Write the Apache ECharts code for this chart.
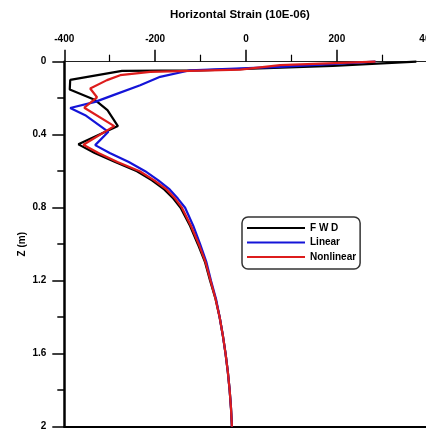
<!DOCTYPE html>
<html>
<head>
<meta charset="utf-8">
<script src="https://cdn.jsdelivr.net/npm/echarts@6/dist/echarts.min.js"></script>
<style>
html,body{margin:0;padding:0;background:#fff;}
#chart{width:426px;height:432px;}
</style>
</head>
<body>
<div id="chart"></div>
<script>
// ---- data (strain in 10E-06, depth Z in m) ----
const seriesNames = ['F W D', 'Linear', 'Nonlinear'];

const fwdDepth  = [0, 0.023, 0.047, 0.05, 0.1, 0.152, 0.21, 0.265, 0.353, 0.453, 0.5, 0.55, 0.6, 0.65, 0.7, 0.75, 0.8, 0.9, 1.0, 1.1, 1.2, 1.3, 1.4, 1.5, 1.6, 1.7, 1.8, 1.9, 2.0];
const fwdStrain = [375, 191, -101, -273, -387, -388, -332, -305, -282, -369, -333, -288, -240, -207, -180, -160, -144, -123, -106, -90, -79, -67, -58, -51, -45, -40, -36, -33, -31];

const linDepth  = [0, 0.028, 0.047, 0.083, 0.129, 0.183, 0.22, 0.254, 0.293, 0.384, 0.457, 0.5, 0.55, 0.6, 0.65, 0.7, 0.75, 0.8, 0.9, 1.0, 1.1, 1.2, 1.3, 1.4, 1.5, 1.6, 1.7, 1.8, 1.9, 2.0];
const linStrain = [285, 75, -123, -189, -233, -292, -332, -387, -354, -303, -332, -300, -258, -222, -193, -168, -150, -134, -116, -101, -87, -77, -66, -58, -51, -45, -40, -36, -33, -31];

const nonDepth  = [0, 0.019, 0.043, 0.056, 0.074, 0.101, 0.147, 0.195, 0.252, 0.353, 0.455, 0.5, 0.55, 0.6, 0.65, 0.7, 0.75, 0.8, 0.9, 1.0, 1.1, 1.2, 1.3, 1.4, 1.5, 1.6, 1.7, 1.8, 1.9, 2.0];
const nonStrain = [285, 75, -13, -211, -277, -306, -343, -328, -356, -290, -358, -325, -283, -234, -202, -175, -156, -141, -121, -104, -89, -78, -67, -58, -51, -45, -40, -36, -33, -31];

const colors = ['#000000', '#1414d8', '#dd1c1c'];
const FONT = '"Liberation Sans", Arial, sans-serif';

function pairs(xs, ys) { return xs.map((x, i) => [x, ys[i]]); }

const chart = echarts.init(document.getElementById('chart'), null, {renderer: 'canvas'});

const lineSeries = [
  pairs(fwdStrain, fwdDepth),
  pairs(linStrain, linDepth),
  pairs(nonStrain, nonDepth)
].map((d, i) => ({
  name: seriesNames[i],
  type: 'line',
  xAxisIndex: 0,
  yAxisIndex: 0,
  data: d,
  showSymbol: false,
  symbol: 'none',
  smooth: false,
  clip: false,
  lineStyle: {color: colors[i], width: 2.2},
  itemStyle: {color: colors[i]},
  z: 2 + i
}));

chart.setOption({
  animation: false,
  backgroundColor: '#fff',
  title: {
    text: 'Horizontal Strain (10E-06)',
    left: 170,
    top: 9,
    padding: 0,
    textStyle: {fontFamily: FONT, fontSize: 11.5, fontWeight: 'bold', color: '#000'}
  },
  legend: {
    data: seriesNames,
    orient: 'vertical',
    left: 242,
    top: 217,
    icon: 'rect',
    itemWidth: 58,
    itemHeight: 2,
    itemGap: 2.5,
    padding: [5, 4, 6, 5],
    borderColor: '#333',
    borderWidth: 1.5,
    borderRadius: 6,
    textStyle: {fontFamily: FONT, fontSize: 10, fontWeight: 'bold', color: '#000', lineHeight: 12}
  },
  grid: {left: 64.3, right: -1.7, top: 61.7, bottom: 5.3, containLabel: false, outerBoundsMode: 'none'},
  xAxis: [{
    type: 'value',
    position: 'top',
    min: -400,
    max: 400,
    interval: 200,
    axisLine: {show: true, onZero: false, lineStyle: {color: '#222', width: 1}},
    axisTick: {show: true, inside: false, length: 12, lineStyle: {color: '#000', width: 1.5}},
    minorTick: {show: true, splitNumber: 2, length: 7, lineStyle: {color: '#000', width: 1.2}},
    axisLabel: {margin: 17, fontFamily: FONT, fontSize: 10, fontWeight: 'bold', color: '#000'},
    splitLine: {show: false}
  }, {
    type: 'value',
    position: 'bottom',
    min: -400,
    max: 400,
    axisLine: {show: true, onZero: false, lineStyle: {color: '#000', width: 2}},
    axisTick: {show: false},
    axisLabel: {show: false},
    splitLine: {show: false}
  }],
  yAxis: {
    type: 'value',
    inverse: true,
    min: 0,
    max: 2,
    interval: 0.4,
    name: 'Z (m)',
    nameLocation: 'middle',
    nameRotate: 90,
    nameGap: 37,
    nameMoveOverlap: false,
    nameTextStyle: {fontFamily: FONT, fontSize: 10, fontWeight: 'bold', color: '#000'},
    axisLine: {show: true, onZero: false, lineStyle: {color: '#000', width: 2.5}},
    axisTick: {show: true, inside: false, length: 12, lineStyle: {color: '#000', width: 1.5}},
    minorTick: {show: true, splitNumber: 2, length: 7, lineStyle: {color: '#000', width: 1.5}},
    axisLabel: {margin: 18, fontFamily: FONT, fontSize: 10, fontWeight: 'bold', color: '#000'},
    splitLine: {show: false}
  },
  series: lineSeries
});
</script>
</body>
</html>
